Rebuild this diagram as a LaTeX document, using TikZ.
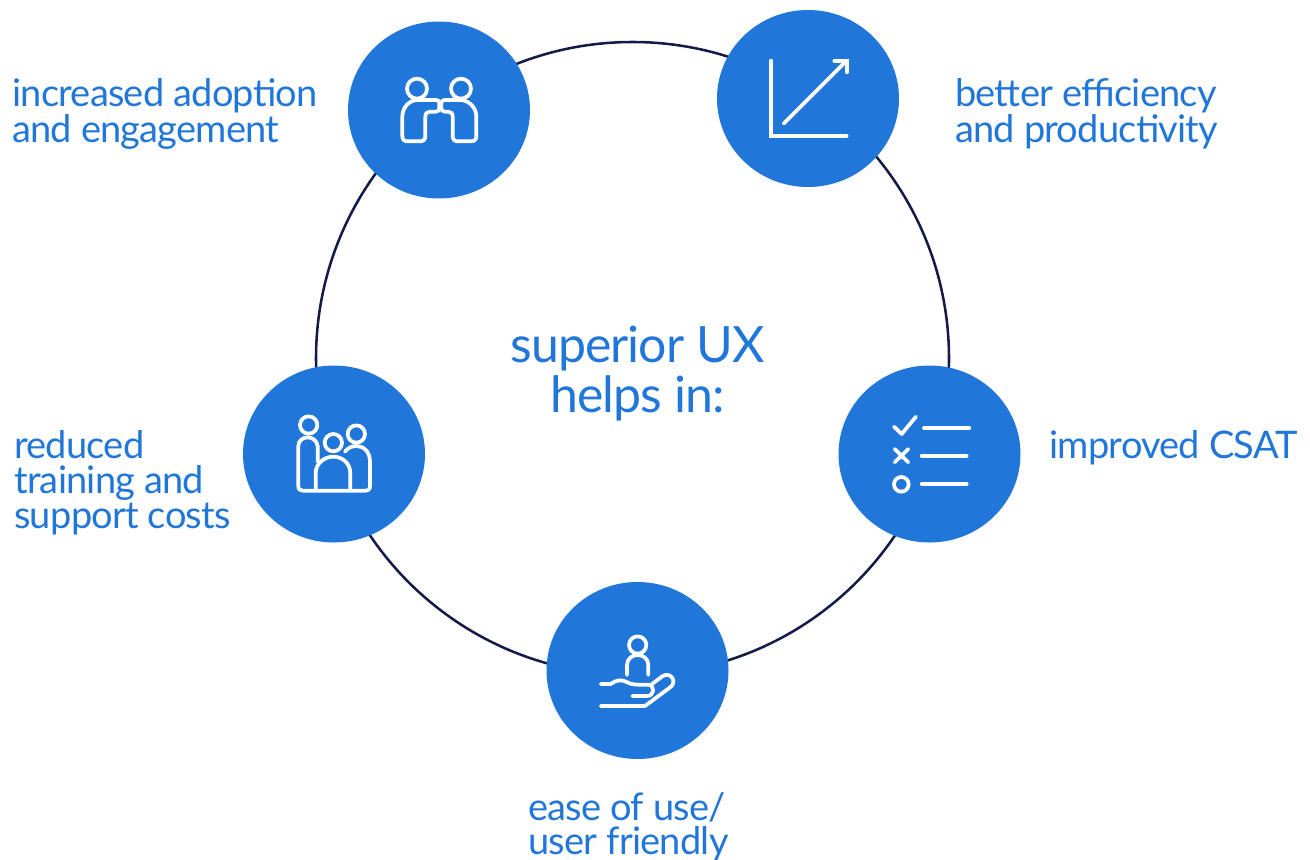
\documentclass[tikz,border=0pt]{standalone}
\usepackage{fontspec}
\usetikzlibrary{shapes.geometric}
\setmainfont{Lato}
\definecolor{uxblue}{HTML}{2176D9}
\definecolor{uxtext}{HTML}{2176D9}
\definecolor{uxring}{HTML}{151B47}
\tikzset{
  bub/.style={ellipse,fill=uxblue,minimum width=136.5pt,minimum height=132.75pt,inner sep=0pt},
  ring/.style={circle,draw=uxring,line width=1.9pt,minimum size=474.75pt,inner sep=0pt},
  ico/.style={draw=white,line width=2.8pt,line cap=round,line join=round},
  lab/.style={text=uxtext,inner sep=0pt,font=\fontsize{28.5}{25.5}\selectfont\addfontfeature{LetterSpace=-2.0},align=left,anchor=west},
  mid/.style={text=uxtext,inner sep=0pt,font=\fontsize{37.5}{37.5}\selectfont\addfontfeature{LetterSpace=-2.0},align=center}
}
\begin{document}
\begin{tikzpicture}[x=0.75pt,y=-0.75pt]
\useasboundingbox (0,0) rectangle (1310,860);
\node[ring] (circle) at (632.5,358.5) {};
\node[bub] (a) at (439,110) {};
\node[bub] (b) at (808,98.5) {};
\node[bub] (c) at (334,454) {};
\node[bub] (d) at (929.5,454) {};
\node[bub] (e) at (637.5,670.5) {};
% icon: handshake
\begin{scope}[shift={(340,10)},scale=1/3]
\draw[ico] (231,236) circle (30) (363,236) circle (30);
\draw[ico] (298,280) .. controls (298,273) and (295,270) .. (288,270) -- (230,270) .. controls (205,272) and (187,295) .. (187,320) -- (187,378) .. controls (187,389) and (193,394) .. (203,394) -- (240,394) .. controls (250,394) and (256,389) .. (256,378) -- (256,320) .. controls (256,310) and (261,305) .. (270,305) -- (288,305) .. controls (295,305) and (298,300) .. (298,295) -- cycle;
\draw[ico] (304,280) .. controls (304,273) and (307,270) .. (314,270) -- (362,270) .. controls (390,272) and (409,295) .. (409,320) -- (409,378) .. controls (409,389) and (403,394) .. (393,394) -- (354,394) .. controls (344,394) and (338,389) .. (338,378) -- (338,320) .. controls (338,310) and (333,305) .. (324,305) -- (314,305) .. controls (307,305) and (304,300) .. (304,295) -- cycle;
\end{scope}
% icon: chart
\begin{scope}[shift={(710,0)},scale=1/3]
\draw[ico,line join=miter] (184,182)--(184,407)--(410,407);
\draw[ico] (221,371)--(410,182);
\draw[ico,line join=miter] (373,182)--(410,182)--(410,217);
\end{scope}
% icon: people
\begin{scope}[shift={(235,360)},scale=1/3]
\draw[ico] (221,195) circle (26) (295,248) circle (26) (364,222) circle (26);
\draw[ico] (248,305) -- (248,258) .. controls (246,242) and (232,232) .. (218,232) .. controls (203,232) and (190,243) .. (190,258) -- (190,378) .. controls (190,388) and (195,392) .. (204,392) -- (390,392) .. controls (400,392) and (405,388) .. (405,378) -- (405,305) .. controls (405,275) and (385,258) .. (365,258) .. controls (350,258) and (338,264) .. (330,275);
\draw[ico] (242,386)--(242,340) .. controls (242,310) and (268,290) .. (295,290) .. controls (322,290) and (346,310) .. (346,340) -- (346,386);
\end{scope}
% icon: checklist
\begin{scope}[shift={(830,360)},scale=1/3]
\draw[ico] (192,200)--(215,222)--(258,170);
\draw[ico] (282,205)--(418,205);
\draw[ico] (194,267)--(235,307) (235,267)--(194,307);
\draw[ico] (275,287)--(410,287);
\draw[ico] (214,373) circle (22);
\draw[ico] (275,371)--(410,371);
\end{scope}
% icon: hand
\begin{scope}[shift={(540,575)},scale=1/3]
\draw[ico] (293,210) circle (26);
\draw[ico] (261,300)--(261,270) .. controls (261,250) and (278,240) .. (293,240) .. controls (308,240) and (325,250) .. (325,270) -- (325,300);
\draw[ico] (182,327)--(212,327) .. controls (228,315) and (245,312) .. (262,322) .. controls (275,330) and (290,329) .. (325,329) .. controls (345,331) and (345,363) .. (320,363) -- (277,363);
\draw[ico] (182,393)--(315,393)--(393,335) .. controls (412,318) and (390,288) .. (367,304) -- (335,328);
\end{scope}
% labels
\node[lab] (la) at (12,114) {increased adoption\\and engagement};
\node[lab] (lb) at (955,114) {better efficiency\\and productivity};
\node[lab] (lc) at (14,482.5) {reduced\\[0.8pt]training and\\[0.8pt]support costs};
\node[lab] (ld) at (1049,447.5) {improved CSAT};
\node[lab] (le) at (528,826.5) {ease of use/\\user friendly};
\node[mid] (lm) at (637.5,374) {superior UX\\helps in:};
\end{tikzpicture}
\end{document}
